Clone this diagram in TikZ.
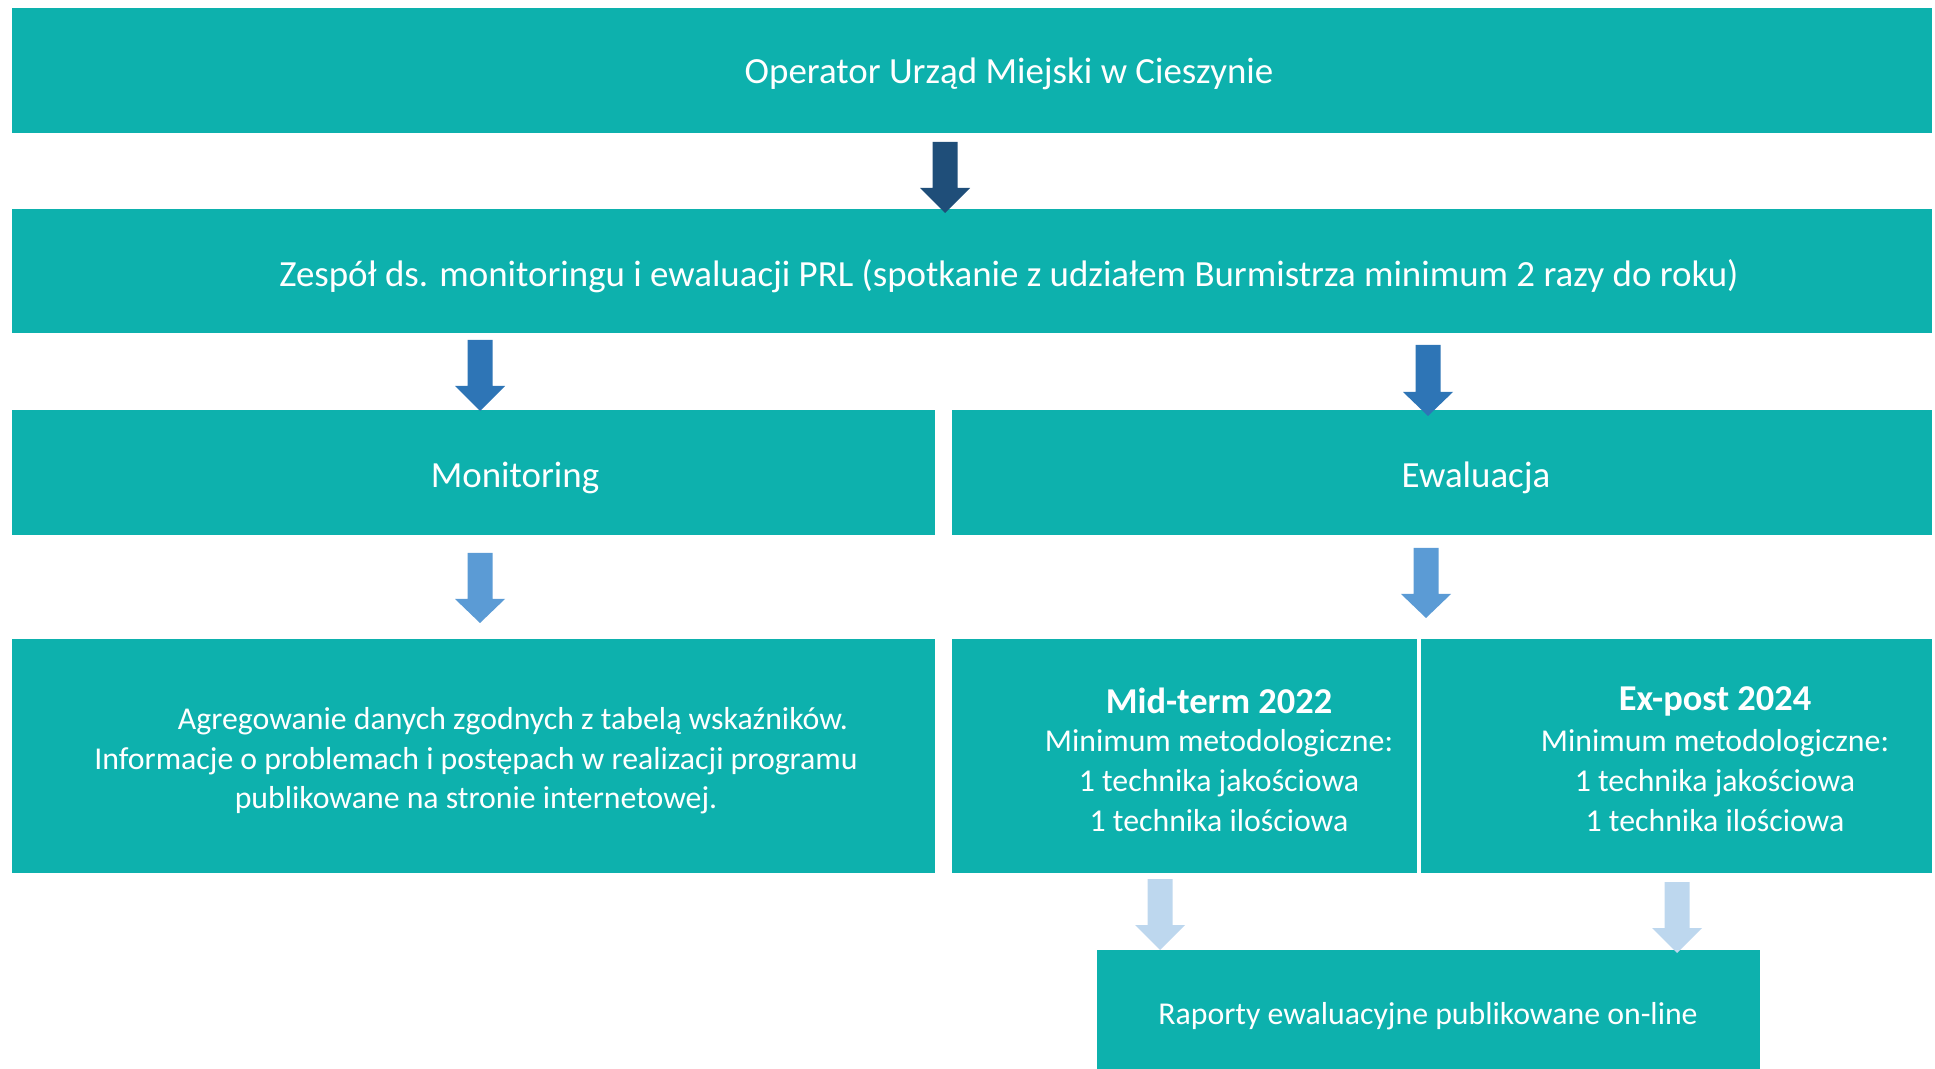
\documentclass[tikz,border=0pt]{standalone}
\usepackage{fontspec}
\setmainfont{Carlito}
\definecolor{teal}{HTML}{0DB1AD}
\definecolor{arrA}{HTML}{1F4E79}
\definecolor{arrB}{HTML}{2E75B6}
\definecolor{arrC}{HTML}{5B9BD5}
\definecolor{arrD}{HTML}{BDD7EE}
\newcommand\blockarrow[5]{%
  \fill[#5] ({#1-12.5},#2) -- ({#1+12.5},#2) -- ({#1+12.5},#3) -- ({#1+25},#3)
    -- (#1,#4) -- ({#1-25},#3) -- ({#1-12.5},#3) -- cycle;}
\begin{document}
\begin{tikzpicture}[x=0.5pt,y=-0.5pt,
  box/.style={fill=teal,draw=none,inner sep=0pt,outer sep=0pt},
  big/.style={text=white,inner sep=0pt,font=\fontsize{18.45pt}{20pt}\selectfont},
  small/.style={text=white,inner sep=0pt,font=\fontsize{15.9pt}{19.5pt}\selectfont},
  head/.style={text=white,inner sep=0pt,font=\fontsize{18.2pt}{20pt}\selectfont\bfseries}]
\useasboundingbox (0,0) rectangle (1935,1069);
% boxes
\node[box,minimum width=960pt,minimum height=62.5pt] (b1) at (972,70.5) {};
\node[box,minimum width=960pt,minimum height=62pt] (b2) at (972,271) {};
\node[box,minimum width=461.5pt,minimum height=62.5pt] (mon) at (473.5,472.5) {};
\node[box,minimum width=490pt,minimum height=62.5pt] (ewa) at (1442,472.5) {};
\node[box,minimum width=461.5pt,minimum height=117pt] (agr) at (473.5,756) {};
\node[box,minimum width=232.5pt,minimum height=117pt] (mid) at (1184.5,756) {};
\node[box,minimum width=255.5pt,minimum height=117pt] (exp) at (1676.5,756) {};
\node[box,minimum width=331.5pt,minimum height=59.5pt] (rap) at (1428.5,1009.5) {};
% texts
\node[big] (t1) at (1009,74) {Operator Urząd Miejski w Cieszynie};
\node[big] (t2) at (1009,276) {Zespół ds. monitoringu i ewaluacji PRL (spotkanie z udziałem Burmistrza minimum 2 razy do roku)};
\node[big] (tmon) at (515,478) {Monitoring};
\node[big] (tewa) at (1476,478) {Ewaluacja};
\node[small] (ta1) at (513,721) {Agregowanie danych zgodnych z tabelą wskaźników.};
\node[small] (ta2) at (476,761) {Informacje o problemach i postępach w realizacji programu};
\node[small] (ta3) at (476,800) {publikowane na stronie internetowej.};
\node[head] (tm0) at (1219,701) {Mid-term 2022};
\node[small] (tm1) at (1219,743) {Minimum metodologiczne:};
\node[small] (tm2) at (1219,783) {1 technika jakościowa};
\node[small] (tm3) at (1219,821) {1 technika ilościowa};
\node[head] (te0) at (1715,701) {Ex-post 2024};
\node[small] (te1) at (1715,743) {Minimum metodologiczne:};
\node[small] (te2) at (1715,783) {1 technika jakościowa};
\node[small] (te3) at (1715,821) {1 technika ilościowa};
\node[small] (trap) at (1428,1016) {Raporty ewaluacyjne publikowane on-line};
% arrows
\blockarrow{945}{142}{188}{213}{arrA}
\blockarrow{480}{340}{386}{411}{arrB}
\blockarrow{1428}{345}{392}{416}{arrB}
\blockarrow{480}{553}{599}{623}{arrC}
\blockarrow{1426}{548}{594}{618}{arrC}
\blockarrow{1160}{879}{925}{950}{arrD}
\blockarrow{1677}{882}{928}{953}{arrD}
\end{tikzpicture}
\end{document}
